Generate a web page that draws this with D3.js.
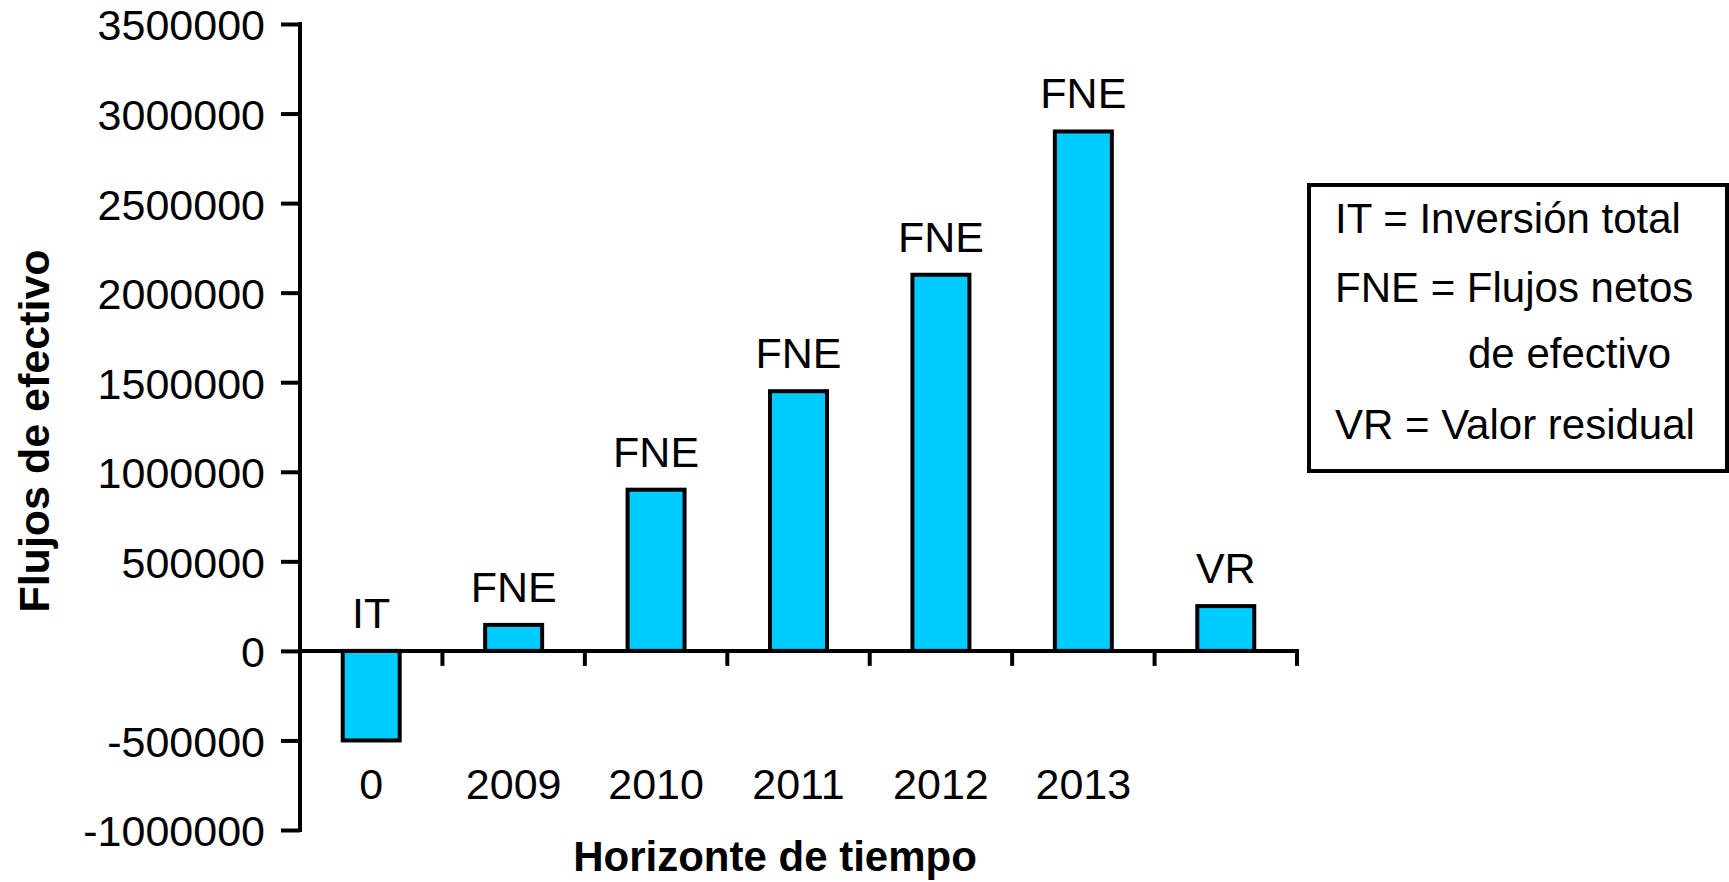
<!DOCTYPE html>
<html>
<head>
<meta charset="utf-8">
<script src="https://cdn.jsdelivr.net/npm/d3@7/dist/d3.min.js"></script>
<style>
  body { margin: 0; background: #fff; }
  svg text { font-family: "Liberation Sans", Arial, sans-serif; fill: #000; }
</style>
</head>
<body>
<div id="chart"></div>
<script>
// datos del grafico
var categories = ["0", "2009", "2010", "2011", "2012", "2013", "VR"];
var tickLabels = ["0", "2009", "2010", "2011", "2012", "2013", ""];
var barLabels = ["IT", "FNE", "FNE", "FNE", "FNE", "FNE", "VR"];
var values = [-500000, 145000, 900000, 1450000, 2100000, 2900000, 250000];
var yTicks = [-1000000, -500000, 0, 500000, 1000000, 1500000, 2000000, 2500000, 3000000, 3500000];
var legendLines = ["IT = Inversión total", "FNE = Flujos netos", "de efectivo", "VR = Valor residual"];

var width = 1729, height = 882;
var svg = d3.select("#chart")
    .append("svg")
    .attr("width", width)
    .attr("height", height);

var x = d3.scaleBand()
    .domain(categories)
    .range([300, 1297])
    .paddingInner(0.6)
    .paddingOuter(0.3);

var y = d3.scaleLinear()
    .domain([-1000000, 3500000])
    .range([830, 24]);

// guion normal en lugar del signo menos
var locale = d3.formatLocale({ decimal: ".", thousands: "", grouping: [3], currency: ["", ""], minus: "-" });

// eje y
var yAxis = svg.append("g")
    .attr("class", "y-axis")
    .attr("transform", "translate(300,0)")
    .call(d3.axisLeft(y)
        .tickValues(yTicks)
        .tickSize(19)
        .tickSizeOuter(0)
        .tickPadding(16)
        .tickFormat(locale.format("d")));
yAxis.selectAll("path, line")
    .style("stroke", "#000")
    .style("stroke-width", 4);
yAxis.select(".domain").attr("d", "M0," + (y.range()[0] + 2) + "V" + (y.range()[1] - 2));
yAxis.selectAll("text")
    .style("font-size", "43px")
    .attr("dy", "0.37em");

// barras
svg.append("g")
    .attr("class", "bars")
    .selectAll("rect")
    .data(values)
    .enter()
    .append("rect")
    .attr("x", function (d, i) { return x(categories[i]); })
    .attr("y", function (d) { return y(Math.max(d, 0)); })
    .attr("width", x.bandwidth())
    .attr("height", function (d) { return Math.abs(y(d) - y(0)); })
    .style("fill", "#00ccff")
    .style("stroke", "#000")
    .style("stroke-width", 4);

// eje x en cero
var xAxis = svg.append("g").attr("class", "x-axis");
xAxis.append("line")
    .attr("x1", 300)
    .attr("x2", x.range()[1] + 2)
    .attr("y1", y(0))
    .attr("y2", y(0))
    .style("stroke", "#000")
    .style("stroke-width", 4);
xAxis.selectAll("line.tick")
    .data(categories)
    .enter()
    .append("line")
    .attr("class", "tick")
    .attr("x1", function (d) { return x(d) + x.bandwidth() + x.step() * x.paddingOuter(); })
    .attr("x2", function (d) { return x(d) + x.bandwidth() + x.step() * x.paddingOuter(); })
    .attr("y1", y(0))
    .attr("y2", y(0) + 15)
    .style("stroke", "#000")
    .style("stroke-width", 4);
xAxis.selectAll("text")
    .data(tickLabels)
    .enter()
    .append("text")
    .attr("x", function (d, i) { return x(categories[i]) + x.bandwidth() / 2; })
    .attr("y", 799)
    .attr("text-anchor", "middle")
    .style("font-size", "43px")
    .text(function (d) { return d; });

// etiquetas sobre barras
svg.append("g")
    .attr("class", "labels")
    .selectAll("text")
    .data(barLabels)
    .enter()
    .append("text")
    .attr("x", function (d, i) { return x(categories[i]) + x.bandwidth() / 2; })
    .attr("y", function (d, i) { return y(Math.max(values[i], 0)) - 23; })
    .attr("text-anchor", "middle")
    .style("font-size", "43px")
    .text(function (d) { return d; });

// titulos
svg.append("text")
    .attr("transform", "translate(49,431) rotate(-90)")
    .attr("text-anchor", "middle")
    .style("font-size", "43px")
    .style("font-weight", "bold")
    .text("Flujos de efectivo");
svg.append("text")
    .attr("x", 775)
    .attr("y", 871)
    .attr("text-anchor", "middle")
    .style("font-size", "42px")
    .style("font-weight", "bold")
    .text("Horizonte de tiempo");

// leyenda
var legend = svg.append("g").attr("class", "legend");
legend.append("rect")
    .attr("x", 1309)
    .attr("y", 185)
    .attr("width", 418)
    .attr("height", 286)
    .style("fill", "none")
    .style("stroke", "#000")
    .style("stroke-width", 4);
var legendY = [233, 302, 368, 439];
legend.selectAll("text")
    .data(legendLines)
    .enter()
    .append("text")
    .attr("x", function (d, i) { return i === 2 ? 1468 : 1335; })
    .attr("y", function (d, i) { return legendY[i]; })
    .style("font-size", "42px")
    .text(function (d) { return d; });
</script>
</body>
</html>
